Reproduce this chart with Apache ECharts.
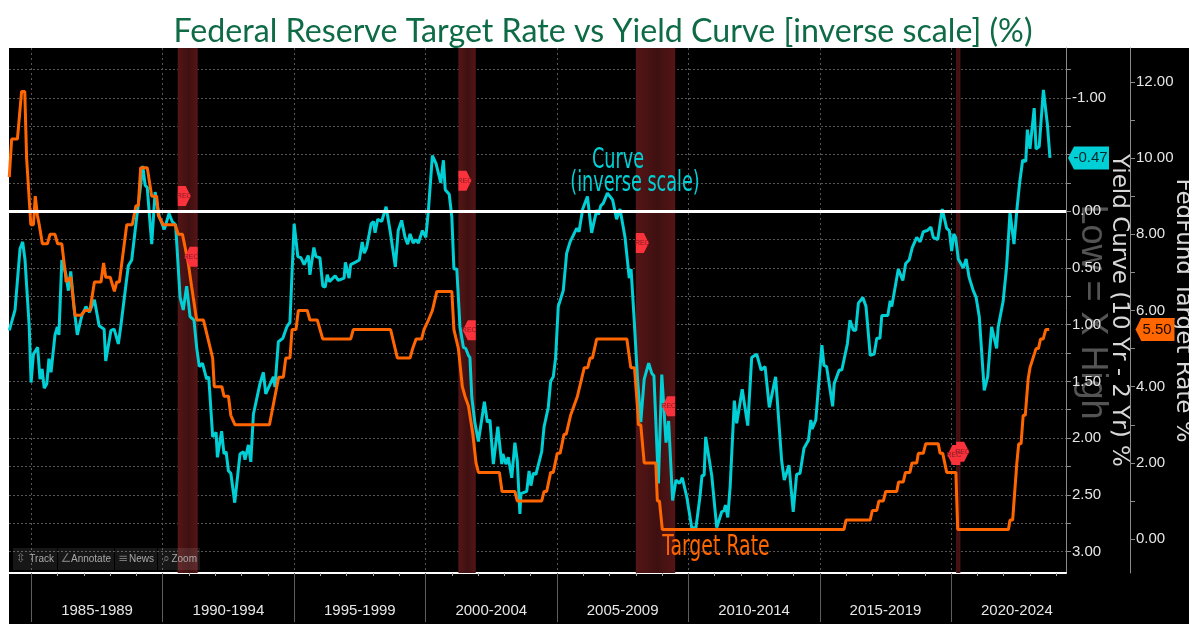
<!DOCTYPE html>
<html>
<head>
<meta charset="utf-8">
<script src="https://cdn.jsdelivr.net/npm/echarts@6/dist/echarts.min.js"></script>
<style>
html, body { margin: 0; padding: 0; background: #fff; }
#chart { width: 1189px; height: 624px; }
</style>
</head>
<body>
<div id="chart"></div>
<script>
// values, dates as decimal years
var fedDates = [1984.16,1984.25,1984.47,1984.63,1984.75,1984.82,1984.98,1985.08,1985.15,1985.23,1985.30,1985.42,1985.61,1985.71,1985.90,1986.00,1986.16,1986.31,1986.32,1986.50,1986.66,1986.89,1987.04,1987.23,1987.40,1987.65,1987.75,1987.83,1988.00,1988.16,1988.25,1988.35,1988.63,1988.84,1988.98,1989.07,1989.16,1989.41,1989.58,1989.77,1989.83,1990.02,1990.47,1990.59,1990.75,1990.97,1991.10,1991.29,1991.55,1991.90,1991.96,1992.25,1992.33,1992.50,1992.59,1992.66,1992.75,1994.06,1994.27,1994.41,1994.59,1994.68,1994.84,1994.92,1995.07,1995.16,1995.50,1995.60,1995.88,1996.09,1997.15,1997.25,1998.67,1998.93,1999.41,1999.51,1999.64,1999.85,1999.94,2000.11,2000.26,2000.33,2000.43,2001.00,2001.08,2001.12,2001.25,2001.40,2001.50,2001.63,2001.80,2001.92,2002.01,2002.81,2002.91,2003.40,2003.49,2004.42,2004.51,2004.61,2004.76,2004.86,2005.01,2005.12,2005.27,2005.35,2005.52,2005.58,2005.78,2005.85,2006.04,2006.17,2006.26,2006.35,2006.51,2007.66,2007.81,2007.95,2008.06,2008.10,2008.19,2008.32,2008.76,2008.82,2008.90,2009.01,2015.92,2016.00,2016.92,2017.00,2017.17,2017.25,2017.42,2017.51,2017.93,2018.00,2018.18,2018.26,2018.43,2018.51,2018.69,2018.75,2018.94,2019.03,2019.51,2019.58,2019.68,2019.83,2020.18,2020.25,2022.18,2022.24,2022.34,2022.50,2022.57,2022.66,2022.74,2022.82,2022.93,2023.00,2023.07,2023.23,2023.32,2023.40,2023.50,2023.60,2023.73];
var fedRates = [9.5,10.5,10.5,11.75,11.75,10,8.25,8.25,9,8.5,8.25,7.75,7.75,8,8,7.75,7.75,6.875,6.75,6.875,5.875,5.875,6,6,6.75,6.75,7.25,6.875,6.875,6.5,6.75,6.75,8.25,8.25,8.75,8.75,9.75,9.75,9,9,8.5,8.25,8.25,8,8,7.25,6.625,5.75,5.75,4.75,4,4,3.75,3.75,3.25,3.25,3,3,3.75,4.25,4.25,4.75,4.75,5.5,5.5,6,6,5.75,5.75,5.25,5.25,5.5,5.5,4.75,4.75,5,5.25,5.25,5.5,5.75,6,6,6.5,6.5,5.5,5.5,5,4,3.75,3.5,2.75,2,1.75,1.75,1.25,1.25,1,1,1.25,1.25,1.75,1.75,2.25,2.25,2.75,2.75,3.25,3.25,3.75,3.75,4.5,4.5,4.75,4.75,5.25,5.25,4.5,4.5,3.5,3,3,2,2,1,1,0.25,0.25,0.5,0.5,0.75,0.75,1,1,1.25,1.25,1.5,1.5,1.75,1.75,2,2,2.25,2.25,2.5,2.5,2.25,2.25,1.75,1.75,0.25,0.25,0.5,0.5,2,2.5,2.5,3.25,3.25,4.2,4.5,4.5,5,5,5.25,5.25,5.5,5.5];

var curveDates = [1984.16,1984.38,1984.57,1984.67,1984.76,1984.92,1984.99,1985.08,1985.24,1985.33,1985.41,1985.49,1985.59,1985.67,1985.75,1985.90,1985.99,1986.05,1986.16,1986.31,1986.41,1986.50,1986.62,1986.75,1986.92,1987.08,1987.21,1987.40,1987.58,1987.77,1987.83,1988.03,1988.15,1988.31,1988.40,1988.69,1988.82,1989.01,1989.14,1989.24,1989.33,1989.41,1989.58,1989.71,1989.77,1989.87,1990.06,1990.24,1990.36,1990.49,1990.66,1990.78,1990.91,1991.04,1991.19,1991.29,1991.39,1991.51,1991.67,1991.75,1991.90,1992.03,1992.08,1992.24,1992.33,1992.41,1992.50,1992.59,1992.74,1992.94,1993.07,1993.13,1993.26,1993.35,1993.45,1993.70,1993.83,1993.92,1994.21,1994.27,1994.40,1994.57,1994.72,1994.84,1995.00,1995.14,1995.26,1995.38,1995.54,1995.60,1995.75,1995.83,1995.98,1996.09,1996.18,1996.26,1996.34,1996.56,1996.68,1996.90,1996.95,1997.09,1997.15,1997.32,1997.48,1997.59,1997.67,1997.76,1997.93,1998.02,1998.08,1998.18,1998.33,1998.50,1998.67,1998.85,1998.96,1999.09,1999.22,1999.32,1999.41,1999.53,1999.63,1999.73,1999.88,2000.01,2000.11,2000.26,2000.40,2000.58,2000.68,2000.75,2000.90,2001.00,2001.08,2001.19,2001.31,2001.44,2001.53,2001.63,2001.69,2001.76,2001.88,2002.01,2002.24,2002.35,2002.45,2002.58,2002.75,2002.90,2002.94,2003.06,2003.15,2003.28,2003.40,2003.49,2003.59,2003.63,2003.85,2003.94,2004.01,2004.10,2004.20,2004.42,2004.51,2004.67,2004.76,2004.86,2004.95,2005.05,2005.24,2005.37,2005.50,2005.75,2005.84,2005.98,2006.16,2006.32,2006.51,2006.58,2006.67,2006.76,2006.92,2007.12,2007.27,2007.40,2007.59,2007.75,2007.82,2007.94,2008.06,2008.19,2008.32,2008.49,2008.61,2008.69,2008.86,2008.99,2009.15,2009.25,2009.40,2009.53,2009.66,2009.77,2009.94,2010.13,2010.29,2010.44,2010.52,2010.60,2010.66,2010.89,2011.08,2011.27,2011.36,2011.41,2011.50,2011.59,2011.75,2011.84,2012.05,2012.26,2012.41,2012.60,2012.77,2012.92,2013.08,2013.32,2013.55,2013.65,2013.83,2013.99,2014.12,2014.25,2014.40,2014.57,2014.66,2014.71,2014.85,2015.08,2015.16,2015.26,2015.49,2015.55,2015.74,2015.84,2016.05,2016.15,2016.28,2016.37,2016.47,2016.64,2016.76,2016.92,2017.07,2017.17,2017.29,2017.36,2017.59,2017.68,2017.74,2017.99,2018.16,2018.27,2018.40,2018.52,2018.69,2018.82,2018.94,2019.09,2019.23,2019.32,2019.49,2019.66,2019.83,2019.93,2020.02,2020.10,2020.17,2020.27,2020.46,2020.57,2020.68,2020.84,2020.95,2021.07,2021.26,2021.39,2021.54,2021.73,2021.79,2021.98,2022.11,2022.24,2022.39,2022.50,2022.60,2022.72,2022.84,2022.90,2023.00,2023.16,2023.23,2023.35,2023.51,2023.66,2023.76];
var curveValues = [1.05,0.87,0.33,0.27,0.43,1.02,1.51,1.26,1.2,1.48,1.39,1.56,1.52,1.3,1.42,1.09,1.02,1.09,0.43,0.55,0.7,0.53,0.84,1.09,0.92,0.84,0.89,0.78,1.01,1.04,1.32,1.05,1.04,1.17,1.02,0.48,0.43,0.05,-0.19,-0.4,-0.23,-0.21,0.29,-0.17,-0.17,0.05,0.16,0.02,0.09,0.12,0.76,0.87,0.66,0.93,0.96,1.2,1.37,1.34,1.48,1.46,1.99,1.95,2.17,1.94,2.14,2.12,2.29,2.31,2.57,2.14,2.12,2.19,2.06,2.21,1.79,1.52,1.42,1.61,1.46,1.55,1.15,1.12,1.02,0.98,0.11,0.4,0.41,0.47,0.39,0.56,0.32,0.4,0.41,0.66,0.67,0.56,0.62,0.57,0.61,0.59,0.45,0.59,0.47,0.45,0.43,0.27,0.37,0.32,0.11,0.09,0.19,0.07,0.09,-0.04,0.2,0.49,0.17,0.08,0.23,0.29,0.2,0.28,0.25,0.28,0.17,0.23,-0.01,-0.49,-0.42,-0.25,-0.45,-0.19,-0.15,0.05,0.51,0.51,1.02,1.2,1.21,1.27,1.29,1.64,1.87,2.03,1.68,1.86,1.84,2.23,1.9,2.23,2.14,2.23,2.17,2.35,2.04,2.2,2.67,2.49,2.47,2.29,2.42,2.31,2.32,2.12,1.9,1.73,1.5,1.46,1.29,0.84,0.7,0.37,0.27,0.15,0.18,-0.02,-0.13,0.19,-0.01,0.03,-0.05,-0.07,-0.16,-0.1,0.07,-0.02,0.23,0.59,0.51,0.96,1.46,1.86,1.48,1.34,1.43,1.45,2.4,1.44,2.04,1.85,2.55,2.37,2.4,2.35,2.52,2.79,2.79,2.52,2.33,2.33,1.99,2.33,2.79,2.65,2.64,2.59,2.7,2.43,1.67,1.87,1.57,1.89,1.29,1.26,1.4,1.37,1.73,1.46,2.2,2.37,2.24,2.65,2.32,2.31,2.09,2.02,1.84,1.92,1.84,1.18,1.36,1.37,1.72,1.52,1.4,1.4,1.17,0.96,1.05,1.05,0.81,0.76,0.84,1.27,1.26,1.12,1.12,0.92,0.92,0.79,0.84,0.51,0.61,0.46,0.43,0.32,0.23,0.27,0.18,0.17,0.14,0.23,0.25,-0.02,0.15,0.17,0.35,0.2,0.23,0.42,0.5,0.42,0.58,0.7,0.76,0.93,1.58,1.46,1.02,1.21,1.02,0.79,0.49,0.01,0.29,-0.01,-0.24,-0.45,-0.44,-0.72,-0.55,-0.91,-0.55,-0.57,-1.07,-0.77,-0.47];

var recessionStarts = [1990.57, 2001.25, 2008.0, 2020.19];
var recessionEnds = [1991.33, 2001.91, 2009.5, 2020.35];
var recStartLevels = [-0.135, -0.27, 0.28, 2.12];
var recEndLevels = [0.40, 1.05, 1.72, 2.15];

var periodMids = [1987.5, 1992.5, 1997.5, 2002.5, 2007.5, 2012.5, 2017.5, 2022.5];
var periodLabels = ['1985-1989', '1990-1994', '1995-1999', '2000-2004', '2005-2009', '2010-2014', '2015-2019', '2020-2024'];
var periodStarts = [1985, 1990, 1995, 2000, 2005, 2010, 2015, 2020];
var yearTicks = [1985,1986,1987,1988,1989,1990,1991,1992,1993,1994,1995,1996,1997,1998,1999,2000,2001,2002,2003,2004,2005,2006,2007,2008,2009,2010,2011,2012,2013,2014,2015,2016,2017,2018,2019,2020,2021,2022,2023,2024];
var curveGrid = [-1, -0.5, 0, 0.5, 1, 1.5, 2, 2.5, 3];
var curveLabels = [-1, 0, 0.5, 1, 1.5, 2, 2.5, 3];
var curveTicks = [-1.25,-1,-0.75,-0.5,-0.25,0,0.25,0.5,0.75,1,1.25,1.5,1.75,2,2.25,2.5,2.75,3];
var fedLabels = [0, 2, 4, 6, 8, 10, 12];
var fedTicks = [0,1,2,3,4,5,6,7,8,9,10,11,12];

var lastCurve = -0.47;
var lastFed = 5.5;

var xMin = 1984.15, xMax = 2024.37;
var narrow = '"DejaVu Sans Condensed", sans-serif';
var tickFont = '"Liberation Sans", sans-serif';
var cyan = '#00d0d6', orange = '#ff6600', dim = '#8a8a8a', textCol = '#e6e6e6';

function zip(a, b) {
    return a.map(function (v, i) { return [v, b[i]] })
}

var bandFill = {
    type: 'linear', x: 0, y: 0, x2: 1, y2: 0,
    colorStops: [
        { offset: 0, color: '#551516' }, { offset: 0.55, color: '#3f1011' }, { offset: 1, color: '#551516' }
    ]
}

var recRight = 'path://M0 0 L8 0 L13 10 L8 20 L0 20 Z';
var recLeft = 'path://M13 0 L5 0 L0 10 L5 20 L13 20 Z';
var recLabel = { show: true, position: 'inside', formatter: 'REC', color: '#8a1a20', fontSize: 7, fontFamily: tickFont };
var tagLeft = 'path://M6 0 L41 0 L41 23 L6 23 L0 11.5 Z';

function toolButton(x, w, glyph, label) {
    return [
        { type: 'rect', z: 90, shape: { x: x, y: 548, width: w, height: 22 }, style: { fill: 'rgba(255,255,255,0.09)' } },
        { type: 'text', z: 91, x: x + 8, y: 559, style: { text: glyph, fill: '#777', font: '12px "DejaVu Sans"', align: 'center', verticalAlign: 'middle' } },
        { type: 'text', z: 91, x: x + w - 3, y: 559, style: { text: label, fill: '#a8a8a8', font: '10px ' + tickFont, align: 'right', verticalAlign: 'middle' } }
    ]
}

var option = {
    animation: false,
    backgroundColor: '#fff',
    title: {
        text: 'Federal Reserve Target Rate vs Yield Curve [inverse scale] (%)',
        left: 598, top: 11, textAlign: 'center',
        textStyle: { color: '#0e6b46', fontFamily: 'Lato', fontSize: 32.2, fontWeight: 'normal' }
    },
    grid: { left: 9, right: 123, top: 48, bottom: 51, containLabel: false, outerBoundsMode: 'none' },
    xAxis: [
        {
            type: 'value', position: 'bottom', min: xMin, max: xMax,
            axisLine: { onZero: false, lineStyle: { color: '#fff', width: 2 } },
            axisTick: { show: true, length: 3, customValues: yearTicks, lineStyle: { color: '#aaa' } },
            axisLabel: { show: false },
            splitLine: { show: false }
        },
        {
            type: 'value', position: 'bottom', min: xMin, max: xMax,
            axisLine: { show: false, onZero: false },
            axisTick: { show: true, length: 49, customValues: periodStarts, lineStyle: { color: '#5e5e5e' } },
            axisLabel: {
                show: true, customValues: periodMids, margin: 30, color: textCol,
                fontFamily: tickFont, fontSize: 15,
                formatter: function (v) { return periodLabels[periodMids.indexOf(v)] }
            },
            splitLine: { show: true, customValues: periodStarts, lineStyle: { color: '#555', type: [2, 3] } }
        }
    ],
    yAxis: [
        {
            type: 'value', inverse: true, position: 'right', min: -1.44, max: 3.19,
            axisLine: { show: true, lineStyle: { color: dim } },
            axisTick: { show: true, length: 5, customValues: curveTicks, lineStyle: { color: dim } },
            axisLabel: {
                show: true, customValues: curveLabels, color: textCol, margin: 6,
                fontFamily: tickFont, fontSize: 15,
                formatter: function (v) { return v.toFixed(2) }
            },
            splitLine: { show: true, customValues: curveGrid, lineStyle: { color: '#555', type: [2, 2] } },
            name: 'Yield Curve (10 Yr - 2 Yr) %', nameLocation: 'middle', nameRotate: -90, nameGap: 41, nameMoveOverlap: false,
            nameTextStyle: { color: '#d8d8d8', fontFamily: 'DejaVu Sans', fontSize: 23 }
        },
        {
            type: 'value', position: 'right', offset: 64, min: -0.89, max: 12.89,
            axisLine: { show: true, lineStyle: { color: dim } },
            axisTick: { show: true, length: 5, customValues: fedTicks, lineStyle: { color: dim } },
            axisLabel: {
                show: true, customValues: fedLabels, color: textCol, margin: 6,
                fontFamily: tickFont, fontSize: 15,
                formatter: function (v) { return v.toFixed(2) }
            },
            splitLine: { show: false },
            name: 'FedFund Target Rate %', nameLocation: 'middle', nameRotate: -90, nameGap: 41, nameMoveOverlap: false,
            nameTextStyle: { color: '#d8d8d8', fontFamily: 'DejaVu Sans', fontSize: 23 }
        }
    ],
    series: [
        {
            name: 'Recessions', type: 'line', data: [], z: 1,
            markArea: {
                silent: true,
                itemStyle: { color: bandFill },
                data: recessionStarts.map(function (s, i) { return [{ xAxis: s }, { xAxis: recessionEnds[i] }] })
            }
        },
        {
            name: 'Curve', type: 'line', yAxisIndex: 0, data: zip(curveDates, curveValues),
            showSymbol: false, z: 3, lineStyle: { color: cyan, width: 3 }, itemStyle: { color: cyan },
            markLine: {
                silent: true, symbol: 'none', label: { show: false },
                lineStyle: { color: '#fff', width: 3, type: 'solid' },
                data: [{ yAxis: 0 }]
            }
        },
        {
            name: 'Target Rate', type: 'line', yAxisIndex: 1, data: zip(fedDates, fedRates),
            showSymbol: false, z: 4, lineStyle: { color: orange, width: 3 }, itemStyle: { color: orange }
        },
        {
            name: 'Rec start', type: 'scatter', yAxisIndex: 0, z: 6,
            data: zip(recessionStarts, recStartLevels),
            symbol: recRight, symbolSize: [13, 20], symbolOffset: [6.5, 0], symbolKeepAspect: false,
            itemStyle: { color: '#f9323c', opacity: 1 }, label: recLabel
        },
        {
            name: 'Rec end', type: 'scatter', yAxisIndex: 0, z: 6,
            data: zip(recessionEnds, recEndLevels),
            symbol: recLeft, symbolSize: [13, 20], symbolOffset: [-6.5, 0], symbolKeepAspect: false,
            itemStyle: { color: '#f9323c', opacity: 1 }, label: recLabel
        },
        {
            name: 'Curve tag', type: 'scatter', yAxisIndex: 0, z: 8, clip: false,
            data: [[xMax, lastCurve]],
            symbol: tagLeft, symbolSize: [41, 23], symbolOffset: [22.5, 0], symbolKeepAspect: false,
            itemStyle: { color: cyan, opacity: 1 },
            label: { show: true, position: 'inside', formatter: function (p) { return p.value[1].toFixed(2) }, color: '#00282a', fontFamily: tickFont, fontSize: 15, offset: [2, 0] }
        },
        {
            name: 'Fed tag', type: 'scatter', yAxisIndex: 1, z: 8, clip: false,
            data: [[xMax, lastFed]],
            symbol: tagLeft, symbolSize: [39, 23], symbolOffset: [89, 0], symbolKeepAspect: false,
            itemStyle: { color: orange, opacity: 1 },
            label: { show: true, position: 'inside', formatter: function (p) { return p.value[1].toFixed(2) }, color: '#1a0a00', fontFamily: tickFont, fontSize: 15, offset: [2, 0] }
        }
    ],
    graphic: {
        elements: [
            // black panel behind the plot
            { type: 'rect', z: -100, shape: { x: 9, y: 48, width: 1180, height: 576 }, style: { fill: '#000' } },
            { type: 'text', z: -50, x: 1092, y: 312, rotation: -Math.PI / 2, style: { text: 'Low = X High', fill: 'rgba(105,105,105,0.8)', font: '36px "Liberation Sans"', align: 'center', verticalAlign: 'middle' } },
            { type: 'text', z: 50, x: 618, y: 161, scaleX: 0.7, style: { text: 'Curve', fill: cyan, font: '28px ' + narrow, align: 'center', verticalAlign: 'middle' } },
            { type: 'text', z: 50, x: 635, y: 184, scaleX: 0.7, style: { text: '(inverse scale)', fill: cyan, font: '28px ' + narrow, align: 'center', verticalAlign: 'middle' } },
            { type: 'text', z: 50, x: 716, y: 548, scaleX: 0.75, style: { text: 'Target Rate', fill: orange, font: '28px ' + narrow, align: 'center', verticalAlign: 'middle' } }
        ].concat(toolButton(13, 44, '⇳', 'Track'), toolButton(58, 56, '∠', 'Annotate'), toolButton(115, 42, '≡', 'News'), toolButton(158, 42, '⌕', 'Zoom'))
    }
}

echarts.init(document.getElementById('chart')).setOption(option)
</script>
</body>
</html>
